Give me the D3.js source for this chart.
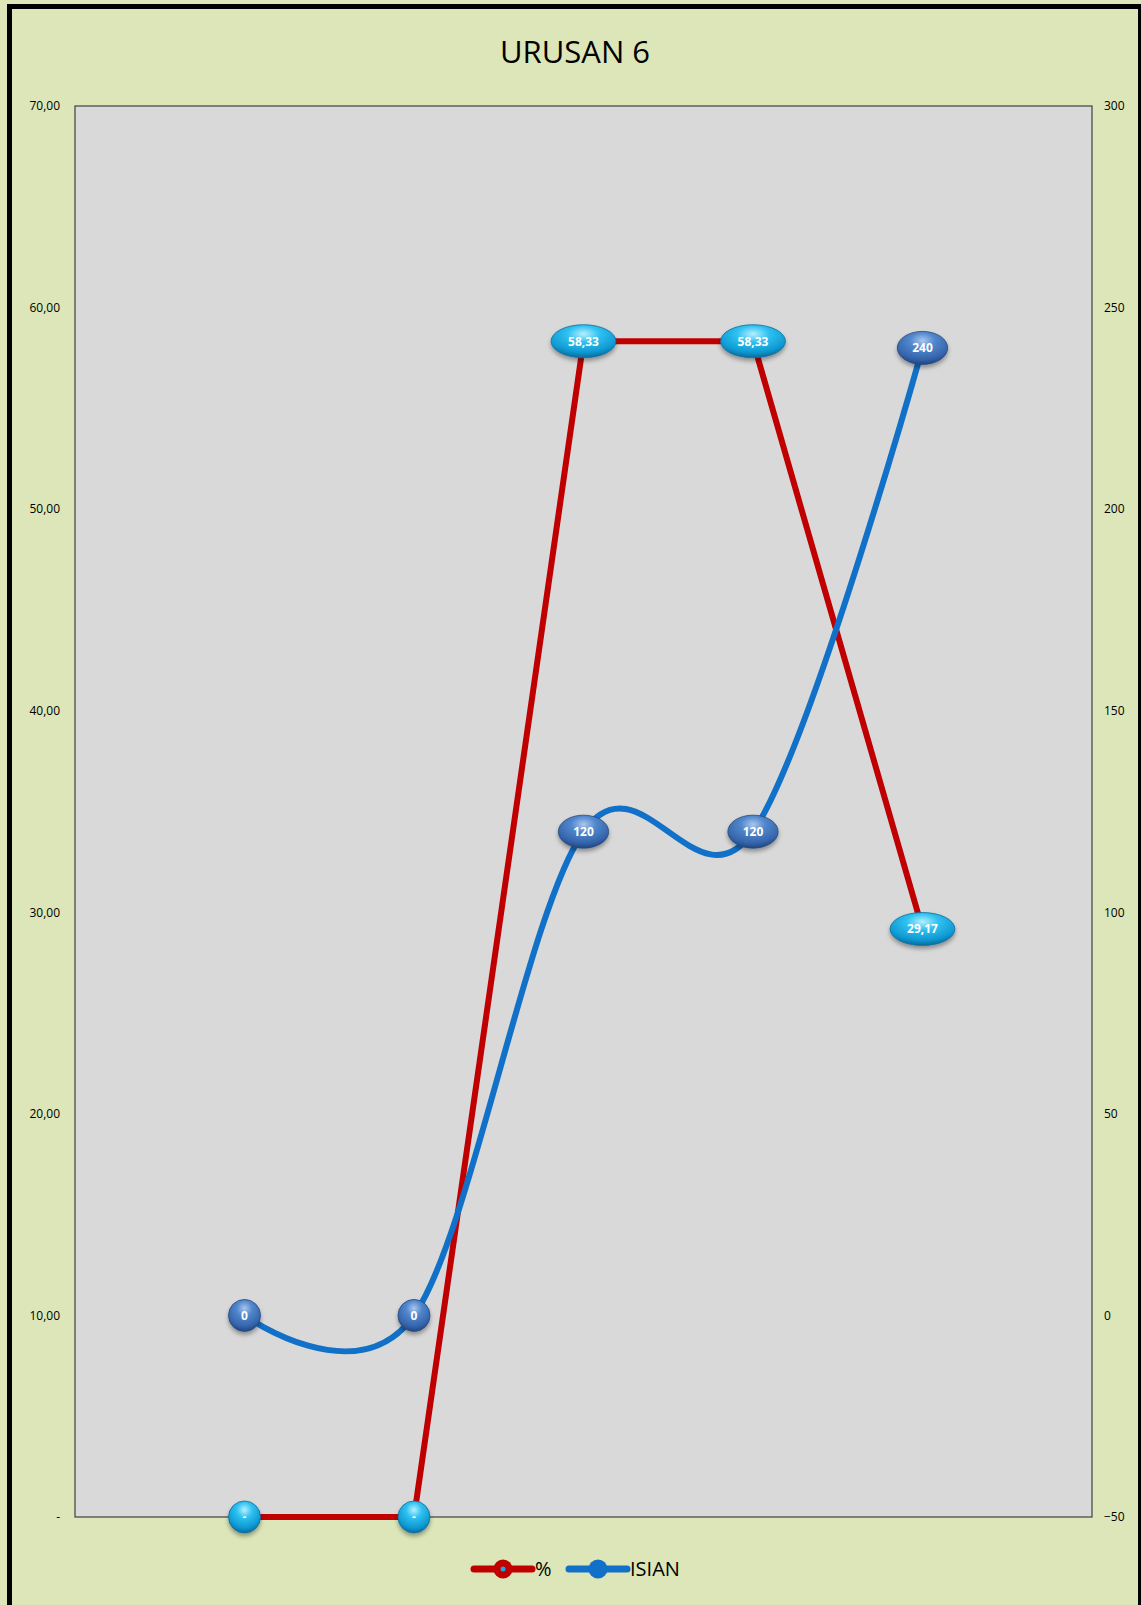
<!DOCTYPE html>
<html>
<head>
<meta charset="utf-8">
<script src="https://cdn.jsdelivr.net/npm/d3@7"></script>
<style>
  body { margin: 0; background: #fff; }
  svg { display: block; }
  text { font-family: "Open Sans", "Liberation Sans", sans-serif; }
</style>
</head>
<body>
<div id="chart"></div>
<script>
"use strict";

// categories (first and last slot are empty, points sit on the inner ticks)
var categories = ["", "1", "2", "3", "4", "5", ""];
var pctValues = [null, 0, 0, 58.33, 58.33, 29.17, null];
var isianValues = [null, 0, 0, 120, 120, 240, null];
var pctLabels = [null, "-", "-", "58,33", "58,33", "29,17", null];
var isianLabels = [null, "0", "0", "120", "120", "240", null];
var leftTicks = [0, 10, 20, 30, 40, 50, 60, 70];
var leftTickLabels = ["-", "10,00", "20,00", "30,00", "40,00", "50,00", "60,00", "70,00"];
var rightTicks = [-50, 0, 50, 100, 150, 200, 250, 300];
var seriesNames = ["%", "ISIAN"];

var W = 1141, H = 1605;
var plot = { left: 75, right: 1092, top: 106, bottom: 1517 };

var svg = d3.select("#chart").append("svg")
    .attr("width", W)
    .attr("height", H);

var defs = svg.append("defs");

// glossy gradients for the label bubbles
var gCyan = defs.append("radialGradient").attr("id", "gCyan")
    .attr("cx", "50%").attr("cy", "28%").attr("r", "70%");
gCyan.append("stop").attr("offset", "0%").attr("stop-color", "#b5f0ff");
gCyan.append("stop").attr("offset", "35%").attr("stop-color", "#2fc1f0");
gCyan.append("stop").attr("offset", "80%").attr("stop-color", "#0e98d2");
gCyan.append("stop").attr("offset", "100%").attr("stop-color", "#0a6f9e");

var gBlue = defs.append("radialGradient").attr("id", "gBlue")
    .attr("cx", "50%").attr("cy", "28%").attr("r", "70%");
gBlue.append("stop").attr("offset", "0%").attr("stop-color", "#a9c6ee");
gBlue.append("stop").attr("offset", "35%").attr("stop-color", "#5187cc");
gBlue.append("stop").attr("offset", "80%").attr("stop-color", "#3565ac");
gBlue.append("stop").attr("offset", "100%").attr("stop-color", "#244a85");

var shadow = defs.append("filter").attr("id", "shadow")
    .attr("x", "-30%").attr("y", "-30%").attr("width", "160%").attr("height", "180%");
shadow.append("feDropShadow")
    .attr("dx", 0).attr("dy", 3).attr("stdDeviation", 2.2)
    .attr("flood-color", "#000").attr("flood-opacity", 0.35);

// background + outer border
svg.append("rect")
    .attr("x", 0).attr("y", 0).attr("width", W).attr("height", H)
    .attr("fill", "#dce6b8");
svg.append("rect")
    .attr("x", 9.5).attr("y", 6.5).attr("width", 1131).attr("height", 1620)
    .attr("fill", "none").attr("stroke", "#000").attr("stroke-width", 5);

// plot area
svg.append("rect")
    .attr("x", plot.left).attr("y", plot.top)
    .attr("width", plot.right - plot.left).attr("height", plot.bottom - plot.top)
    .attr("fill", "#d9d9d9").attr("stroke", "#404040").attr("stroke-width", 1.2);

// scales
var x = d3.scalePoint().domain(d3.range(categories.length)).range([plot.left, plot.right]);
var yLeft = d3.scaleLinear().domain([0, 70]).range([plot.bottom, plot.top]);
var yRight = d3.scaleLinear().domain([-50, 300]).range([plot.bottom, plot.top]);

// axes (labels only, no lines)
var leftAxis = d3.axisLeft(yLeft).tickValues(leftTicks).tickSize(0).tickPadding(0)
    .tickFormat(function(d, i) { return leftTickLabels[i]; });
var gl = svg.append("g").attr("transform", "translate(60,0)").call(leftAxis);
gl.select(".domain").remove();
gl.selectAll("text").attr("font-size", 12).attr("fill", "#000")
    .style("font-family", "'Open Sans', sans-serif");

var rightAxis = d3.axisRight(yRight).tickValues(rightTicks).tickSize(0).tickPadding(0)
    .tickFormat(d3.format("d"));
var gr = svg.append("g").attr("transform", "translate(1104,0)").call(rightAxis);
gr.select(".domain").remove();
gr.selectAll("text").attr("font-size", 12).attr("fill", "#000")
    .style("font-family", "'Open Sans', sans-serif");

// title
svg.append("text")
    .attr("x", 575).attr("y", 63)
    .attr("text-anchor", "middle")
    .attr("font-size", 31)
    .attr("fill", "#000")
    .text("URUSAN 6");

// series lines
var idx = d3.range(categories.length);

var pctLine = d3.line()
    .defined(function(i) { return pctValues[i] != null; })
    .x(function(i) { return x(i); })
    .y(function(i) { return yLeft(pctValues[i]); });

var isianLine = d3.line()
    .defined(function(i) { return isianValues[i] != null; })
    .x(function(i) { return x(i); })
    .y(function(i) { return yRight(isianValues[i]); })
    .curve(d3.curveCardinal.tension(0));

svg.append("path")
    .attr("d", pctLine(idx))
    .attr("fill", "none").attr("stroke", "#c00000")
    .attr("stroke-width", 6).attr("stroke-linejoin", "round");

svg.append("path")
    .attr("d", isianLine(idx))
    .attr("fill", "none").attr("stroke", "#1170c8")
    .attr("stroke-width", 6).attr("stroke-linecap", "round");

// data label bubbles
function drawLabels(values, labels, yScale, grad, stroke) {
    idx.forEach(function(i) {
        if (values[i] == null) return;
        var g = svg.append("g")
            .attr("transform", "translate(" + x(i) + "," + yScale(values[i]) + ")");
        var el = g.append("ellipse")
            .attr("fill", "url(#" + grad + ")")
            .attr("stroke", stroke).attr("stroke-width", 0.8)
            .attr("filter", "url(#shadow)");
        var t = g.append("text")
            .attr("text-anchor", "middle")
            .attr("dy", "0.36em")
            .attr("font-size", 12)
            .attr("font-weight", "bold")
            .attr("fill", "#fff")
            .text(labels[i]);
        var tw = t.node().getComputedTextLength();
        var rx = Math.max(16, (tw / 2 + 7.5) * 1.414);
        el.attr("rx", rx).attr("ry", rx <= 16.5 ? 16 : 16.5);
    });
}

drawLabels(pctValues, pctLabels, yLeft, "gCyan", "#0b6f9f");
drawLabels(isianValues, isianLabels, yRight, "gBlue", "#24497f");

// legend
var legend = svg.append("g");
var legendItems = [
    { name: seriesNames[0], x0: 474, color: "#c00000", dot: true },
    { name: seriesNames[1], x0: 569, color: "#1170c8", dot: false }
];
var ly = 1569;
legendItems.forEach(function(d) {
    legend.append("line")
        .attr("x1", d.x0).attr("x2", d.x0 + 58)
        .attr("y1", ly).attr("y2", ly)
        .attr("stroke", d.color).attr("stroke-width", 7).attr("stroke-linecap", "round");
    legend.append("circle")
        .attr("cx", d.x0 + 29).attr("cy", ly).attr("r", 9.5)
        .attr("fill", d.color);
    if (d.dot) {
        legend.append("circle")
            .attr("cx", d.x0 + 29).attr("cy", ly).attr("r", 2.5)
            .attr("fill", "#1aa8e0");
    }
    legend.append("text")
        .attr("x", d.x0 + 61).attr("y", ly + 7)
        .attr("font-size", 20).attr("fill", "#000")
        .text(d.name);
});
</script>
</body>
</html>
